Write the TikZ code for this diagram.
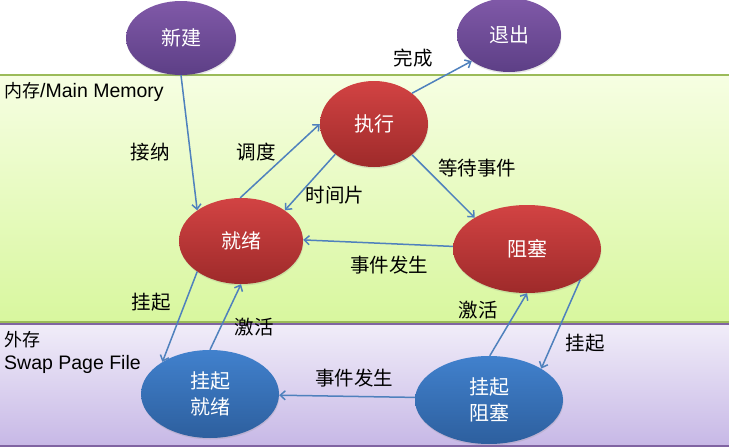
\documentclass[tikz,border=0pt]{standalone}
\usepackage{fontspec}
\setmainfont{Liberation Sans}
\newfontfamily\cjk{Noto Sans CJK SC}
\usetikzlibrary{shapes.geometric,arrows.meta,positioning,shadows}

\definecolor{purpletop}{HTML}{8059A8}
\definecolor{purplebot}{HTML}{5D3F86}
\definecolor{redtop}{HTML}{D24343}
\definecolor{redbot}{HTML}{9E2A2A}
\definecolor{bluetop}{HTML}{4181CD}
\definecolor{bluebot}{HTML}{2D5F9E}
\definecolor{linkblue}{HTML}{4F81BD}
\definecolor{greenline}{HTML}{9BBB59}
\definecolor{violetline}{HTML}{8064A2}

\begin{document}
\begin{tikzpicture}[x=1pt, y=-1pt,
    state/.style={ellipse, inner sep=0pt, text=white, align=center,
        font=\cjk\fontsize{20}{26}\selectfont,
        drop shadow={opacity=0.2, shadow xshift=0.5pt, shadow yshift=-1.5pt}},
    newexit/.style={state, top color=purpletop, bottom color=purplebot},
    inmem/.style={state, top color=redtop, bottom color=redbot},
    onswap/.style={state, top color=bluetop, bottom color=bluebot},
    link/.style={draw=linkblue, line width=1.5pt, -{Straight Barb[length=5pt,width=9pt]}},
    lbl/.style={font=\cjk\fontsize{19.5}{22}\selectfont, inner sep=1pt},
    zone/.style={font=\fontsize{19.5}{23}\selectfont, anchor=west, inner sep=0pt, align=left}]
    \useasboundingbox (0,0) rectangle (729,447);

    % Memory bands
    \shade[top color={rgb,255:red,246;green,254;blue,226}, bottom color={rgb,255:red,216;green,247;blue,158}]
        (0,75) rectangle (729,323);
    \draw[greenline, line width=1.2pt] (0,75) -- (729,75);
    \draw[greenline, line width=1.2pt] (0,322) -- (729,322);
    \shade[top color={rgb,255:red,241;green,237;blue,249}, bottom color={rgb,255:red,199;green,184;blue,230}]
        (0,324) rectangle (729,446);
    \draw[violetline, line width=1.2pt] (0,324) -- (729,324);
    \draw[violetline, line width=1.2pt] (0,446) -- (729,446);

    \node[zone] (mainmem) at (4,92) {{\cjk\fontsize{18}{23}\selectfont 内存}/Main Memory};
    \node[zone] (swapmem) at (4,352) {{\cjk\fontsize{18}{23}\selectfont 外存}\\Swap Page File};

    % States
    \node[newexit, minimum width=110pt, minimum height=74pt] (xinjian) at (181,38) {新建};
    \node[newexit, minimum width=104pt, minimum height=74pt] (tuichu) at (509,35) {退出};
    \node[inmem, minimum width=108pt, minimum height=86pt] (zhixing) at (374,124) {执行};
    \node[inmem, minimum width=124pt, minimum height=86pt] (jiuxu) at (241,241) {就绪};
    \node[inmem, minimum width=148pt, minimum height=88pt] (zuse) at (527,249) {阻塞};
    \node[onswap, minimum width=138pt, minimum height=88pt] (gqjiuxu) at (210,394) {挂起\\就绪};
    \node[onswap, minimum width=148pt, minimum height=88pt] (gqzuse) at (489,400) {挂起\\阻塞};

    % Transitions
    \draw[link] (xinjian.270) -- (jiuxu.145);
    \draw[link] (jiuxu.91) -- (zhixing.180);
    \draw[link] (zhixing.218) -- (jiuxu.35);
    \draw[link] (zhixing.39) -- (tuichu.215);
    \draw[link] (zhixing.321) -- (zuse.149);
    \draw[link] (zuse.178) -- (jiuxu.1);
    \draw[link] (jiuxu.215) -- (gqjiuxu.146);
    \draw[link] (gqjiuxu.90) -- (jiuxu.270);
    \draw[link] (zuse.330) -- (gqzuse.31);
    \draw[link] (gqzuse.89) -- (zuse.270);
    \draw[link] (gqzuse.178) -- (gqjiuxu.359);

    % Transition labels
    \node[lbl] (jiena) at (150,152) {接纳};
    \node[lbl] (diaodu) at (256,152) {调度};
    \node[lbl] (shijianpian) at (335,195) {时间片};
    \node[lbl] (wancheng) at (413,58) {完成};
    \node[lbl] (dengdai) at (477,168) {等待事件};
    \node[lbl] (fasheng) at (389,265) {事件发生};
    \node[lbl] (guaqileft) at (151,302) {挂起};
    \node[lbl] (jihuoleft) at (254,327) {激活};
    \node[lbl] (guaqiright) at (585,343) {挂起};
    \node[lbl] (jihuoright) at (478,310) {激活};
    \node[lbl] (fashengswap) at (354,378) {事件发生};
\end{tikzpicture}
\end{document}
